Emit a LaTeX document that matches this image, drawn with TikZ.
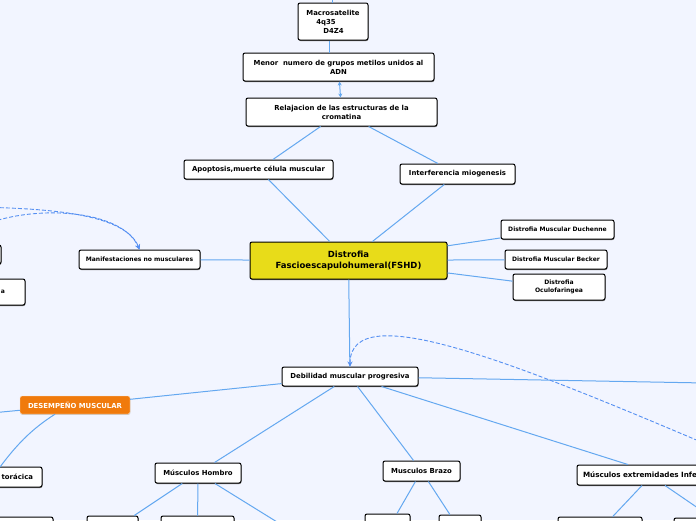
\documentclass[tikz,border=0pt]{standalone}
\usepackage{fontspec}
\setmainfont{DejaVu Sans}
\usetikzlibrary{shapes,arrows.meta,positioning,shadows,calc}
\definecolor{fondo}{RGB}{242,245,255}
\definecolor{ramo}{RGB}{100,168,240}
\definecolor{giallo}{RGB}{232,220,25}
\definecolor{arancio}{RGB}{240,122,12}
\tikzset{
	box/.style={rectangle, rounded corners=2pt, draw=black, line width=1pt, fill=white, inner sep=1pt, align=center, font=\bfseries\fontsize{6.9}{9}\selectfont, drop shadow={shadow xshift=0.4pt, shadow yshift=-1pt, fill=black!55, opacity=1}},
	small/.style={font=\bfseries\fontsize{6.05}{8.4}\selectfont},
	ramo/.style={draw=ramo, line width=1pt},
	link/.style={draw=ramo!85!blue, line width=0.9pt, dash pattern=on 4pt off 2pt}
}
\begin{document}
\begin{tikzpicture}[x=1pt, y=-1pt]
	\useasboundingbox (0,0) rectangle (696,520);
	\clip (0,0) rectangle (696,520);
	\fill[fondo] (0,0) rectangle (696,520);
	% nodi
	\node[box, minimum width=70pt, minimum height=37pt, align=left] (macro) at (333,21.5) {Macrosatelite\\\hspace*{10pt}4q35\\\hspace*{17pt}D4Z4};
	\node[box, minimum width=191pt, minimum height=28pt] (metil) at (338.5,67) {Menor~ numero de grupos metilos unidos al\\ADN};
	\node[box, minimum width=191pt, minimum height=28pt] (relaj) at (341.5,112) {Relajacion de las estructuras de la\\cromatina};
	\node[box, minimum width=149pt, minimum height=19pt] (apop) at (258.5,169.5) {Apoptosis,muerte célula muscular};
	\node[box, minimum width=115pt, minimum height=20pt] (inter) at (457.5,174) {Interferencia miogenesis};
	\node[box, fill=giallo, minimum width=197pt, minimum height=37pt, font=\bfseries\fontsize{8.5}{11}\selectfont] (fshd) at (348.5,260.5) {Distrofia\\Fascioescapulohumeral(FSHD)};
	\node[box, small, minimum width=113pt, minimum height=19pt] (duch) at (557.5,229.5) {Distrofia Muscular Duchenne};
	\node[box, small, minimum width=102pt, minimum height=19pt] (beck) at (556,259.5) {Distrofia Muscular Becker};
	\node[box, small, minimum width=92pt, minimum height=26pt] (ocul) at (559,287) {Distrofia\\Oculofaringea};
	\node[box, small, minimum width=121pt, minimum height=19pt] (manif) at (139.5,259.5) {Manifestaciones no musculares};
	\node[box, minimum width=40pt, minimum height=19pt] (sxa) at (-19,254.5) {};
	\node[box, small, minimum width=60pt, minimum height=26pt, text width=20pt, align=right, yshift=1pt] (sxb) at (-5,293) {a};
	\node[box, minimum width=136pt, minimum height=19pt] (debil) at (350,376.5) {Debilidad muscular progresiva};
	\node[rectangle, rounded corners=2pt, draw=white!80!arancio, fill=arancio, text=white, inner sep=1pt, minimum width=110pt, minimum height=18pt, font=\bfseries\fontsize{6.9}{8}\selectfont, drop shadow={shadow xshift=0.4pt, shadow yshift=-0.8pt, fill=black!20, opacity=1}] (desem) at (75,405) {DESEMPEÑO MUSCULAR};
	\node[box, minimum width=84pt, minimum height=20pt, text width=66pt, align=right] (torac) at (0,477) {torácica};
	\node[box, minimum width=86pt, minimum height=20pt] (homb) at (198,473) {Músculos Hombro};
	\node[box, minimum width=77pt, minimum height=20pt] (braz) at (421.5,471) {Musculos Brazo};
	\node[box, minimum width=168pt, minimum height=20pt, text width=156pt, align=left, font=\bfseries\fontsize{7.2}{9}\selectfont] (extr) at (661,475) {Músculos extremidades Inferiores};
	% nodi tagliati in basso
	\node[box, minimum width=70pt, minimum height=26pt] (bas1) at (18,530) {};
	\node[box, minimum width=51pt, minimum height=28pt] (bas2) at (112.5,530) {};
	\node[box, minimum width=73pt, minimum height=28pt] (bas3) at (197.5,530) {};
	\node[box, minimum width=45pt, minimum height=32pt] (bas4) at (387.5,530) {};
	\node[box, minimum width=42pt, minimum height=30pt] (bas5) at (460,530) {};
	\node[box, minimum width=84pt, minimum height=26pt] (bas6) at (600,530) {};
	\node[box, minimum width=112pt, minimum height=24pt] (bas7) at (730,530) {};
	% estremi liberi
	\coordinate (sopra) at (332,-30);
	\coordinate (sxdes) at (-40,416);
	\coordinate (sxtor) at (0,467);
	\coordinate (bas8) at (290,530);
	\coordinate (dx) at (760,384);
	\coordinate (dxlink) at (720,450);
	\coordinate (sxl1) at (-30,207);
	\coordinate (sxl2) at (-30,232);
	
	\draw[ramo] (sopra) -- ([xshift=-1pt]macro.north);
	\draw[ramo] ([xshift=-4pt]macro.south) -- ([xshift=-9.5pt]metil.north);
	\draw[ramo, {Stealth[length=4pt,width=4pt]}-{Stealth[length=4pt,width=4pt]}] (metil) -- (relaj);
	\draw[ramo] (relaj) -- (apop);
	\draw[ramo] (relaj) -- (inter);
	\draw[ramo] (apop) -- (fshd);
	\draw[ramo] (inter) -- (fshd);
	\draw[ramo] (fshd) -- (duch);
	\draw[ramo] (fshd) -- (beck);
	\draw[ramo] (fshd) -- (ocul);
	\draw[ramo] (fshd) -- (manif);
	\draw[ramo] (fshd) -- (debil);
	\draw[ramo] (debil) -- (desem);
	\draw[ramo] (desem) -- (sxdes);
	\draw[ramo] ([xshift=-20pt]desem.south) .. controls (30,430) and (15,447) .. (sxtor);
	\draw[ramo] (debil) -- (homb);
	\draw[ramo] (debil) -- (braz);
	\draw[ramo] (debil) -- (extr);
	\draw[ramo] (debil) -- (dx);
	\draw[ramo] (homb) -- (bas2);
	\draw[ramo] (homb) -- (bas3);
	\draw[ramo] (homb) -- (bas8);
	\draw[ramo] (braz) -- (bas4);
	\draw[ramo] (braz) -- (bas5);
	\draw[ramo] ([xshift=-19pt]extr.south) -- (bas6);
	\draw[ramo] ([xshift=4pt]extr.south) -- (bas7);
	% collegamenti tratteggiati
	\draw[link, -{Stealth[length=5pt,width=5pt]}] (dxlink) .. controls (520,365) and (350,295) .. (debil.north);
	\draw[link, -{Stealth[length=5pt,width=5pt]}] (sxl1) .. controls (40,208) and (125,212) .. (manif.north);
	\draw[link, -{Stealth[length=5pt,width=5pt]}] (sxl2) .. controls (15,204) and (120,205) .. (manif.north);
\end{tikzpicture}
\end{document}
